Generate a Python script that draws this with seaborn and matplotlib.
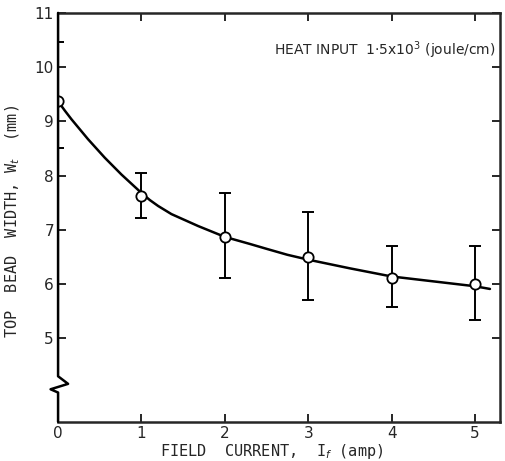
import matplotlib
matplotlib.use("Agg")
import matplotlib.pyplot as plt
import pandas as pd
import seaborn as sns

# measured points
field_current = [0, 1, 2, 3, 4, 5]
bead_width = [9.37, 7.62, 6.87, 6.50, 6.12, 6.00]
err_upper = [10.47, 8.05, 7.68, 7.32, 6.71, 6.71]
err_lower = [8.51, 7.22, 6.12, 5.70, 5.58, 5.33]

# fitted curve
curve_x = [0, 0.08, 0.16, 0.36, 0.56, 0.76, 0.88, 1.0, 1.1, 1.2, 1.36, 1.68,
           2.0, 2.3, 2.5, 2.75, 3.0, 3.5, 4.0, 4.5, 5.0, 5.18]
curve_y = [9.37, 9.20, 9.04, 8.67, 8.33, 8.02, 7.85, 7.68, 7.55, 7.44, 7.29,
           7.07, 6.87, 6.74, 6.65, 6.54, 6.45, 6.29, 6.14, 6.05, 5.96, 5.91]

x_ticks = [0, 1, 2, 3, 4, 5]
y_ticks = [5, 6, 7, 8, 9, 10, 11]

sns.set_style("ticks")
plt.rcParams["font.family"] = ["DejaVu Sans"]

fig = plt.figure(figsize=(5.05, 4.61), dpi=100)
ax = fig.add_axes([0.115, 0.085, 0.875, 0.887])

curve = pd.DataFrame({"x": curve_x, "y": curve_y})
sns.lineplot(data=curve, x="x", y="y", ax=ax, color="black", lw=1.8, sort=False)

pts = pd.DataFrame({"x": field_current, "y": bead_width,
                    "lo": err_lower, "hi": err_upper})
yerr = [pts["y"] - pts["lo"], pts["hi"] - pts["y"]]
ax.errorbar(pts["x"], pts["y"], yerr=yerr, fmt="none", ecolor="black",
            elinewidth=1.4, capsize=4, capthick=1.4, zorder=3)
sns.scatterplot(data=pts, x="x", y="y", ax=ax, s=55, facecolor="white",
                edgecolor="black", linewidth=1.3, zorder=4)

ax.set_xlim(0, 5.3)
ax.set_ylim(3.46, 11)
ax.set_xticks(x_ticks)
ax.set_yticks(y_ticks)
ax.tick_params(direction="in", length=6, width=1.4, labelsize=11, pad=3,
               top=True, right=True, labeltop=False, labelright=False)

for side in ["top", "right", "bottom"]:
    ax.spines[side].set_visible(True)
    ax.spines[side].set_linewidth(1.8)

# left spine with axis-break zigzag
ax.spines["left"].set_visible(False)
brk_x = [0, 0, 0.12, -0.09, 0, 0]
brk_y = [11, 4.30, 4.16, 4.06, 4.0, 3.46]
ax.plot(brk_x, brk_y, color="black", lw=1.8, clip_on=False, zorder=5)

mono = ["DejaVu Sans Mono"]
ax.set_xlabel("FIELD  CURRENT,  I$_f$ (amp)", fontsize=11, family=mono)
ax.xaxis.set_label_coords(0.484, -0.05)
ax.set_ylabel("TOP  BEAD  WIDTH, W$_t$  (mm)", fontsize=11, family=mono)
ax.yaxis.set_label_coords(-0.081, 0.49)
ax.text(0.99, 0.91, "HEAT INPUT  1$\\cdot$5x10$^3$ (joule/cm)",
        transform=ax.transAxes, ha="right", va="center", fontsize=10)

fig.savefig("out.png", dpi=100)
